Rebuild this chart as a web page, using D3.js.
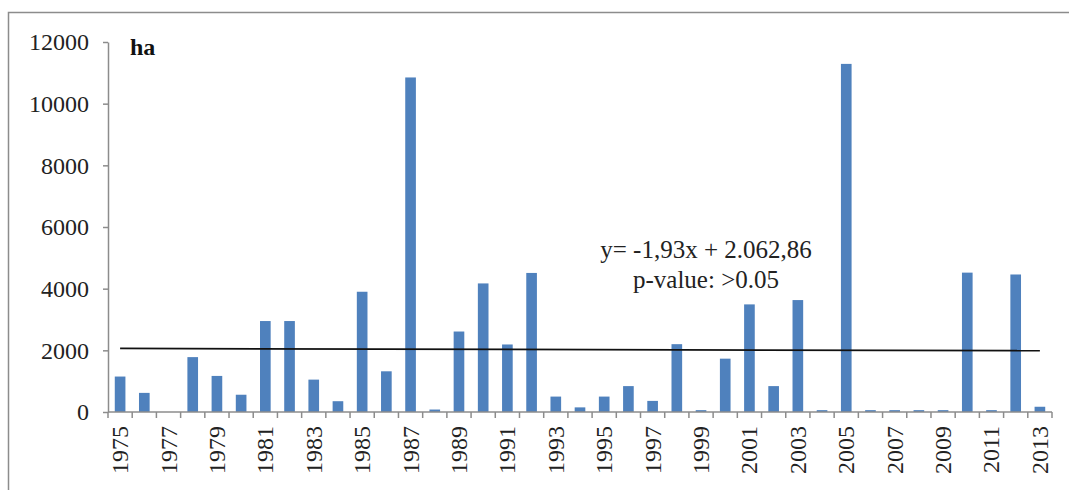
<!DOCTYPE html>
<html>
<head>
<meta charset="utf-8">
<script src="https://cdn.jsdelivr.net/npm/d3@7"></script>
<style>
  html, body { margin: 0; padding: 0; background: #fff; }
  svg { display: block; }
</style>
</head>
<body>
<svg id="chart" width="1069" height="490"></svg>
<script>
// Burned area per year (ha)
const years = d3.range(1975, 2014);
const areas = [
  1150, 620, 0, 1780, 1170, 560, 2950, 2950, 1050, 350,
  3900, 1320, 10850, 80, 2610, 4170, 2190, 4510, 500, 150,
  500, 840, 360, 2200, 60, 1730, 3490, 840, 3630, 60,
  11290, 60, 60, 60, 60, 4520, 60, 4460, 170
];
const yTicks = [0, 2000, 4000, 6000, 8000, 10000, 12000];
const xLabels = years.filter((d, i) => i % 2 === 0);

// Linear trend reported for the series (x = year index, starting at 1)
const trendSlope = -1.93;
const trendIntercept = 2062.86;
const trendText = ["y= -1,93x + 2.062,86", "p-value: >0.05"];
const unitLabel = "ha";

const FONT = "'Liberation Serif', 'Times New Roman', 'DejaVu Serif', serif";
const svg = d3.select("#chart").style("font-family", FONT);

// frame around the chart area
svg.append("rect")
  .attr("x", 8.5).attr("y", 12.5)
  .attr("width", 1100).attr("height", 520)
  .attr("fill", "none").attr("stroke", "#8c8c8c").attr("stroke-width", 1.5);

const x = d3.scaleBand()
  .domain(years)
  .range([108, 1052])
  .paddingInner(0.56)
  .paddingOuter(0.28);

const y = d3.scaleLinear().domain([0, 12000]).range([412, 42]);

const axisColor = "#8c8c8c";

// y axis
const gy = svg.append("g")
  .attr("transform", "translate(108,0)")
  .call(d3.axisLeft(y).tickValues(yTicks).tickSize(5).tickSizeOuter(0).tickPadding(14).tickFormat(d3.format("d")));
gy.attr("font-family", null).attr("font-size", null);
gy.select(".domain").attr("stroke", axisColor).attr("stroke-width", 1.5);
gy.selectAll(".tick line").attr("stroke", axisColor).attr("stroke-width", 1.5);
gy.selectAll(".tick text")
  .style("font-family", FONT).style("font-size", "24px").attr("fill", "#222");

// bars
svg.append("g").selectAll("rect")
  .data(years.map((yr, i) => ({ yr, v: areas[i] })))
  .join("rect")
  .attr("x", d => x(d.yr))
  .attr("width", x.bandwidth())
  .attr("y", d => y(d.v))
  .attr("height", d => y(0) - y(d.v))
  .attr("fill", "#4f81bd");

// x axis: baseline, ticks on category boundaries, labels every other year
const gx = svg.append("g").attr("transform", `translate(0,${y(0)})`);
gx.append("line")
  .attr("x1", x.range()[0]).attr("x2", x.range()[1])
  .attr("stroke", axisColor).attr("stroke-width", 1.5);
const boundaries = d3.range(years.length + 1).map(i => x.range()[0] + i * x.step());
gx.selectAll("line.tk").data(boundaries).join("line")
  .attr("class", "tk")
  .attr("x1", d => d).attr("x2", d => d)
  .attr("y1", 0).attr("y2", 6)
  .attr("stroke", axisColor).attr("stroke-width", 1.5);
gx.selectAll("text").data(xLabels).join("text")
  .attr("transform", d => `translate(${x(d) + x.bandwidth() / 2 + 8},${14}) rotate(-90)`)
  .attr("text-anchor", "end")
  .style("font-family", FONT).style("font-size", "24px")
  .attr("fill", "#222")
  .text(d => d);

// trend line
const first = 1, last = years.length;
svg.append("line")
  .attr("x1", x(years[0]) + x.bandwidth() / 2)
  .attr("x2", x(years[last - 1]) + x.bandwidth() / 2)
  .attr("y1", y(trendSlope * first + trendIntercept))
  .attr("y2", y(trendSlope * last + trendIntercept))
  .attr("stroke", "#111").attr("stroke-width", 1.8);

// trend annotation
svg.append("g").selectAll("text").data(trendText).join("text")
  .attr("x", 706)
  .attr("y", (d, i) => 258 + i * 30)
  .attr("text-anchor", "middle")
  .style("font-family", FONT).style("font-size", "25px")
  .attr("fill", "#222")
  .text(d => d);

// unit label
svg.append("text")
  .attr("x", 130).attr("y", 55)
  .style("font-family", FONT).style("font-size", "24px")
  .attr("fill", "#111")
  .attr("font-weight", "bold")
  .text(unitLabel);
</script>
</body>
</html>
